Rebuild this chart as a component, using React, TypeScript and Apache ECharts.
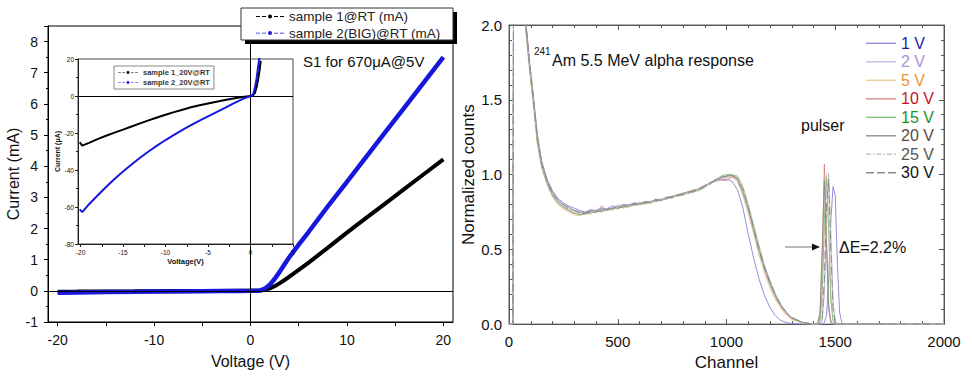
import React, { useEffect, useRef } from 'react';
import * as echarts from 'echarts';

// ---------- Left panel: I-V curves (mA) ----------
const IV_VOLTAGE = [-20, -18, -15, -12, -10, -8, -5, -3, -1, 0, 0.5, 1, 1.5, 2, 2.5, 3, 3.5, 4, 5, 6, 8, 10, 12, 14, 16, 18, 20];
const IV_SAMPLE1 = [-0.027, -0.024, -0.018, -0.014, -0.01, -0.008, -0.004, -0.002, -0.0005, 0, 0.002, 0.012, 0.035, 0.08, 0.15, 0.24, 0.34, 0.45, 0.67, 0.9, 1.38, 1.87, 2.34, 2.81, 3.28, 3.75, 4.22];
const IV_SAMPLE2 = [-0.062, -0.052, -0.041, -0.032, -0.024, -0.018, -0.011, -0.006, -0.0018, 0, 0.003, 0.015, 0.07, 0.2, 0.38, 0.6, 0.84, 1.07, 1.48, 1.88, 2.7, 3.5, 4.3, 5.1, 5.9, 6.7, 7.5];

// ---------- Inset: reverse bias (uA) ----------
const INSET_VOLTAGE = [-20.1, -19.8, -19, -18, -17, -16, -15, -14, -13, -12, -11, -10, -9, -8, -7, -6, -5, -4, -3, -2, -1, -0.5, 0, 0.3, 0.5, 0.7, 0.9, 1.1, 1.2];
const INSET_SAMPLE1 = [-25, -26.8, -25.3, -23.3, -21.5, -19.8, -18.2, -16.5, -14.8, -13.2, -11.6, -10.1, -8.7, -7.4, -6.1, -5, -4, -3.1, -2.2, -1.4, -0.6, -0.3, 0, 0.3, 1.5, 4.5, 9, 15, 19];
const INSET_SAMPLE2 = [-61.3, -62.8, -58.5, -53.8, -49.2, -44.9, -40.8, -37, -33.4, -30, -26.8, -23.8, -21, -18.3, -15.8, -13.3, -11, -8.7, -6.4, -4.0, -1.8, -0.9, 0, 0.8, 4, 9, 16, 22, 26];

const MAIN_X_LABELS = [-20, -10, 0, 10, 20];
const MAIN_X_TICKS = [-20, -15, -10, -5, 0, 5, 10, 15, 20];
const INSET_X_LABELS = [-20, -15, -10, -5, 0, 5];
const INSET_X_TICKS = [-20, -17.5, -15, -12.5, -10, -7.5, -5, -2.5, 0, 2.5, 5];

// ---------- Right panel: alpha spectra ----------
const CHANNELS = [
  0, 18, 24, 60, 77, 95, 112, 130, 150, 175, 200, 225, 250, 275, 300,
  325, 350, 375, 400, 425, 450, 475, 500, 525, 550, 575, 600, 625, 650, 675, 700, 725, 750, 775, 800, 825, 850, 875, 900, 925, 950, 975, 1000,
  1025, 1050, 1075, 1100, 1125, 1150, 1175, 1200, 1225, 1250, 1275, 1300, 1350,
  1400, 1410, 1420, 1430, 1440, 1450, 1460, 1470, 1480, 1490, 1500, 1510, 1520, 1530, 1540, 1550,
  1600, 2000,
];
const SPEC_1V = [
  0, 0, 4.5, 3.0, 2.02, 1.74, 1.52, 1.26, 1.09, 0.97, 0.89, 0.84, 0.81, 0.79, 0.775,
  0.76, 0.75, 0.765, 0.76, 0.775, 0.77, 0.79, 0.785, 0.8, 0.795, 0.81, 0.805, 0.82, 0.815, 0.835, 0.83, 0.85, 0.845, 0.865, 0.87, 0.885, 0.89, 0.91, 0.925, 0.94, 0.955, 0.965, 0.97,
  0.955, 0.9, 0.78, 0.6, 0.44, 0.3, 0.19, 0.11, 0.055, 0.025, 0.01, 0.004, 0,
  0, 0, 0, 0, 0, 0.01, 0.06, 0.3, 0.7, 0.92, 0.86, 0.4, 0.08, 0.01, 0, 0,
  0, 0,
];
const SPEC_2V = [
  0, 0, 4.6, 3.05, 2.0, 1.71, 1.49, 1.23, 1.06, 0.94, 0.86, 0.82, 0.78, 0.76, 0.74,
  0.735, 0.75, 0.74, 0.76, 0.75, 0.775, 0.765, 0.785, 0.78, 0.8, 0.795, 0.81, 0.805, 0.82, 0.82, 0.835, 0.835, 0.855, 0.855, 0.875, 0.875, 0.895, 0.9, 0.925, 0.935, 0.965, 0.975, 0.985,
  0.99, 0.96, 0.87, 0.75, 0.61, 0.47, 0.35, 0.25, 0.17, 0.11, 0.065, 0.035, 0.008,
  0, 0, 0, 0, 0.02, 0.2, 0.7, 0.95, 0.6, 0.15, 0.02, 0, 0, 0, 0, 0,
  0, 0,
];
const SPEC_5V = [
  0, 0, 4.4, 2.98, 1.98, 1.7, 1.48, 1.22, 1.05, 0.93, 0.85, 0.8, 0.77, 0.75, 0.73,
  0.725, 0.74, 0.735, 0.765, 0.745, 0.77, 0.76, 0.8, 0.775, 0.785, 0.81, 0.795, 0.815, 0.805, 0.83, 0.825, 0.85, 0.84, 0.87, 0.86, 0.89, 0.88, 0.91, 0.915, 0.95, 0.955, 0.985, 0.98,
  0.985, 0.955, 0.86, 0.74, 0.6, 0.46, 0.34, 0.24, 0.165, 0.105, 0.06, 0.03, 0.006,
  0, 0, 0, 0.02, 0.18, 0.65, 1.0, 0.72, 0.2, 0.03, 0, 0, 0, 0, 0, 0,
  0, 0,
];
const SPEC_10V = [
  0, 0, 4.5, 3.02, 2.03, 1.75, 1.53, 1.27, 1.08, 0.95, 0.86, 0.81, 0.79, 0.76, 0.74,
  0.735, 0.745, 0.76, 0.745, 0.79, 0.76, 0.775, 0.77, 0.795, 0.785, 0.81, 0.8, 0.82, 0.81, 0.835, 0.825, 0.845, 0.845, 0.86, 0.875, 0.875, 0.9, 0.895, 0.93, 0.935, 0.97, 0.965, 0.96,
  0.985, 0.97, 0.88, 0.77, 0.63, 0.49, 0.37, 0.27, 0.185, 0.12, 0.075, 0.04, 0.01,
  0, 0, 0, 0.05, 0.45, 1.07, 0.55, 0.12, 0.02, 0, 0, 0, 0, 0, 0, 0,
  0, 0,
];
const SPEC_15V = [
  0, 0, 4.5, 2.97, 1.97, 1.69, 1.47, 1.21, 1.05, 0.94, 0.86, 0.81, 0.78, 0.76, 0.745,
  0.73, 0.735, 0.745, 0.75, 0.755, 0.76, 0.77, 0.775, 0.785, 0.785, 0.795, 0.8, 0.805, 0.815, 0.82, 0.83, 0.835, 0.85, 0.855, 0.865, 0.875, 0.885, 0.895, 0.915, 0.94, 0.965, 0.99, 1.0,
  1.0, 0.99, 0.92, 0.8, 0.66, 0.52, 0.39, 0.29, 0.2, 0.13, 0.08, 0.045, 0.012,
  0, 0, 0, 0.02, 0.22, 0.7, 0.98, 0.62, 0.15, 0.02, 0, 0, 0, 0, 0, 0,
  0, 0,
];
const SPEC_20V = [
  0, 0, 4.5, 3.0, 2.01, 1.73, 1.51, 1.25, 1.08, 0.96, 0.88, 0.83, 0.8, 0.78, 0.76,
  0.75, 0.745, 0.755, 0.76, 0.765, 0.77, 0.775, 0.785, 0.79, 0.795, 0.805, 0.81, 0.815, 0.82, 0.83, 0.835, 0.845, 0.855, 0.865, 0.875, 0.885, 0.895, 0.905, 0.925, 0.945, 0.965, 0.98, 0.99,
  0.995, 0.975, 0.89, 0.77, 0.63, 0.49, 0.37, 0.27, 0.19, 0.125, 0.075, 0.04, 0.01,
  0, 0, 0.01, 0.08, 0.5, 0.96, 0.5, 0.1, 0.01, 0, 0, 0, 0, 0, 0, 0,
  0, 0,
];
const SPEC_25V = [
  0, 0, 4.5, 3.0, 2.0, 1.72, 1.5, 1.24, 1.07, 0.95, 0.87, 0.82, 0.79, 0.77, 0.755,
  0.74, 0.75, 0.745, 0.76, 0.76, 0.77, 0.765, 0.78, 0.79, 0.79, 0.8, 0.81, 0.81, 0.82, 0.825, 0.835, 0.84, 0.85, 0.86, 0.87, 0.88, 0.895, 0.9, 0.92, 0.94, 0.96, 0.975, 0.985,
  0.99, 0.97, 0.88, 0.76, 0.62, 0.48, 0.36, 0.26, 0.18, 0.115, 0.07, 0.038, 0.009,
  0, 0, 0, 0, 0.03, 0.25, 0.75, 1.02, 0.55, 0.12, 0.01, 0, 0, 0, 0, 0,
  0, 0,
];
const SPEC_30V = [
  0, 0, 4.5, 3.01, 2.01, 1.73, 1.5, 1.25, 1.07, 0.96, 0.87, 0.83, 0.8, 0.77, 0.76,
  0.745, 0.74, 0.75, 0.75, 0.76, 0.765, 0.775, 0.775, 0.785, 0.795, 0.8, 0.8, 0.81, 0.82, 0.825, 0.83, 0.845, 0.85, 0.86, 0.865, 0.88, 0.89, 0.9, 0.92, 0.945, 0.96, 0.98, 0.99,
  0.995, 0.975, 0.9, 0.78, 0.64, 0.5, 0.38, 0.28, 0.195, 0.125, 0.078, 0.042, 0.011,
  0, 0, 0, 0, 0.04, 0.3, 0.8, 0.97, 0.5, 0.1, 0.01, 0, 0, 0, 0, 0,
  0, 0,
];

const SPEC_NAMES = ['1 V', '2 V', '5 V', '10 V', '15 V', '20 V', '25 V', '30 V'];
const SPEC_VALUES = [SPEC_1V, SPEC_2V, SPEC_5V, SPEC_10V, SPEC_15V, SPEC_20V, SPEC_25V, SPEC_30V];
const SPEC_LINE_COLORS = ['#9090e0', '#cdbcee', '#eec99a', '#d68888', '#86c286', '#9a8a92', '#c4c4c4', '#8a8a8a'];
const SPEC_TEXT_COLORS = ['#1c1ca6', '#ad8fdc', '#ec9433', '#c4141c', '#1c8f1c', '#5c4a44', '#555555', '#111111'];
const SPEC_LINE_TYPES: any[] = ['solid', 'solid', 'solid', 'solid', 'solid', 'solid', [6, 2, 1, 2], [8, 4]];

const FONT = '"Liberation Sans", Arial, Helvetica, sans-serif';

// legend icon shapes (30 x 1.4 box)
const ICON_SOLID = 'path://M0,0h30v1.4h-30z';
const ICON_DASHDOT = 'path://M0,0h5v1.4h-5zM7,0h1.5v1.4h-1.5zM10.5,0h5v1.4h-5zM17.5,0h1.5v1.4h-1.5zM21,0h5v1.4h-5zM28,0h2v1.4h-2z';
const ICON_DASH = 'path://M0,0h8v1.4h-8zM11,0h8v1.4h-8zM22,0h8v1.4h-8z';
const SPEC_ICONS = [ICON_SOLID, ICON_SOLID, ICON_SOLID, ICON_SOLID, ICON_SOLID, ICON_SOLID, ICON_DASHDOT, ICON_DASH];
// dash-dot-dash icon (28 x 4 box)
const ICON_LINE_DOT = 'path://M0,1.6h4v0.8h-4zM6,1.6h4v0.8h-4zM18,1.6h4v0.8h-4zM24,1.6h4v0.8h-4zM12,2a2,2 0 1,0 4,0a2,2 0 1,0 -4,0z';

export default function App() {
  const ref = useRef<HTMLDivElement>(null);

  useEffect(() => {
    const chart = echarts.init(ref.current as HTMLDivElement, null, { renderer: 'svg' });
    const zip = (xs: number[], ys: number[]) => xs.map((x, i) => [x, ys[i]]);

    const specSeries = SPEC_NAMES.map((name, i) => ({
      name,
      type: 'line',
      xAxisIndex: 2,
      yAxisIndex: 2,
      data: zip(CHANNELS, SPEC_VALUES[i]),
      symbol: 'none',
      clip: true,
      z: 3,
      lineStyle: { color: SPEC_LINE_COLORS[i], width: 1, type: SPEC_LINE_TYPES[i] },
      itemStyle: { color: SPEC_LINE_COLORS[i] },
    }));

    const axisText = { fontFamily: FONT, color: '#111' };

    const option: any = {
      animation: false,
      backgroundColor: '#ffffff',
      textStyle: { fontFamily: FONT },
      grid: [
        { left: 48, top: 26, width: 405, height: 296, show: true, borderColor: '#000', borderWidth: 1, backgroundColor: 'transparent', z: 0 },
        { left: 78, top: 59, width: 215, height: 185, show: true, borderColor: '#444', borderWidth: 1, backgroundColor: '#ffffff', z: 3 },
        { left: 509, top: 25, width: 435, height: 301, show: true, borderColor: '#666', borderWidth: 1, backgroundColor: 'transparent', z: 0 },
      ],
      xAxis: [
        {
          type: 'value', gridIndex: 0, min: -21, max: 21,
          axisLine: { show: true, onZero: false, lineStyle: { color: '#000', width: 1 } },
          axisTick: { show: true, customValues: MAIN_X_TICKS, length: 4, lineStyle: { color: '#000' } },
          axisLabel: { customValues: MAIN_X_LABELS, fontSize: 14, margin: 11, ...axisText },
          splitLine: { show: false },
          name: 'Voltage (V)', nameLocation: 'middle', nameGap: 31,
          nameTextStyle: { fontSize: 16, ...axisText },
        },
        {
          type: 'value', gridIndex: 1, min: -20.3, max: 5, z: 6,
          axisLine: { show: true, onZero: false, lineStyle: { color: '#222', width: 1 } },
          axisTick: { show: true, customValues: INSET_X_TICKS, length: 3, lineStyle: { color: '#222' } },
          axisLabel: { customValues: INSET_X_LABELS, fontSize: 6.5, margin: 5, ...axisText },
          splitLine: { show: false },
          name: 'Voltage(V)', nameLocation: 'middle', nameGap: 13,
          nameTextStyle: { fontSize: 7.5, fontWeight: 'bold', ...axisText },
        },
        {
          type: 'value', gridIndex: 2, min: 0, max: 2000, interval: 500,
          axisLine: { show: true, onZero: false, lineStyle: { color: '#555', width: 1 } },
          axisTick: { show: true, inside: true, length: 5, lineStyle: { color: '#555' } },
          minorTick: { show: true, splitNumber: 5, length: 3, lineStyle: { color: '#555' } },
          axisLabel: { fontSize: 15, margin: 10, formatter: (v: number) => String(v), ...axisText },
          splitLine: { show: false },
          name: 'Channel', nameLocation: 'middle', nameGap: 27,
          nameTextStyle: { fontSize: 17, ...axisText },
        },
        {
          type: 'value', gridIndex: 2, position: 'top', min: 0, max: 2000, interval: 500,
          axisLine: { show: true, onZero: false, lineStyle: { color: '#555', width: 1 } },
          axisTick: { show: true, inside: true, length: 5, lineStyle: { color: '#555' } },
          minorTick: { show: true, splitNumber: 5, length: 3, lineStyle: { color: '#555' } },
          axisLabel: { show: false },
          splitLine: { show: false },
        },
      ],
      yAxis: [
        {
          type: 'value', gridIndex: 0, min: -1, max: 8.5, interval: 1,
          axisLine: { show: true, onZero: false, lineStyle: { color: '#000', width: 1 } },
          axisTick: { show: true, length: 4, lineStyle: { color: '#000' } },
          minorTick: { show: true, splitNumber: 2, length: 2, lineStyle: { color: '#000' } },
          axisLabel: { fontSize: 14, margin: 10, showMaxLabel: false, ...axisText },
          splitLine: { show: false },
          name: 'Current (mA)', nameLocation: 'middle', nameGap: 21,
          nameTextStyle: { fontSize: 16, ...axisText },
        },
        {
          type: 'value', gridIndex: 1, min: -80, max: 20, interval: 20, z: 6,
          axisLine: { show: true, onZero: false, lineStyle: { color: '#222', width: 1 } },
          axisTick: { show: true, length: 3, lineStyle: { color: '#222' } },
          minorTick: { show: true, splitNumber: 2, length: 2, lineStyle: { color: '#222' } },
          axisLabel: { fontSize: 6.5, margin: 4, ...axisText },
          splitLine: { show: false },
          name: 'Current (μA)', nameLocation: 'middle', nameGap: 15,
          nameTextStyle: { fontSize: 7, fontWeight: 'bold', ...axisText },
        },
        {
          type: 'value', gridIndex: 2, min: 0, max: 2, interval: 0.5,
          axisLine: { show: true, onZero: false, lineStyle: { color: '#555', width: 1 } },
          axisTick: { show: true, inside: true, length: 5, lineStyle: { color: '#555' } },
          minorTick: { show: true, splitNumber: 5, length: 3, lineStyle: { color: '#555' } },
          axisLabel: { fontSize: 15, margin: 7, formatter: (v: number) => v.toFixed(1), ...axisText },
          splitLine: { show: false },
          name: 'Normalized counts', nameLocation: 'middle', nameGap: 32,
          nameTextStyle: { fontSize: 17, ...axisText },
        },
        {
          type: 'value', gridIndex: 2, position: 'right', min: 0, max: 2, interval: 0.5,
          axisLine: { show: true, onZero: false, lineStyle: { color: '#555', width: 1 } },
          axisTick: { show: true, inside: true, length: 5, lineStyle: { color: '#555' } },
          minorTick: { show: true, splitNumber: 5, length: 3, lineStyle: { color: '#555' } },
          axisLabel: { show: false },
          splitLine: { show: false },
        },
      ],
      legend: [
        {
          data: [
            { name: 'sample 1@RT (mA)', icon: ICON_LINE_DOT },
            { name: 'sample 2(BIG)@RT (mA)', icon: ICON_LINE_DOT },
          ],
          orient: 'vertical', left: 256, top: 9.5, z: 20,
          itemWidth: 28, itemHeight: 4, itemGap: 2.6, padding: 0,
          textStyle: { fontSize: 13.5, lineHeight: 14, color: '#222', fontFamily: FONT },
        },
        {
          data: [
            { name: 'sample 1_20V@RT', icon: ICON_LINE_DOT },
            { name: 'sample 2_20V@RT', icon: ICON_LINE_DOT },
          ],
          orient: 'vertical', left: 114, top: 66, z: 20,
          itemWidth: 20, itemHeight: 3, itemGap: 1, padding: [2, 4, 2, 4],
          backgroundColor: '#fff', borderColor: '#888', borderWidth: 1,
          textStyle: { fontSize: 7.5, lineHeight: 9, fontWeight: 'bold', color: '#333', fontFamily: FONT },
        },
        {
          data: SPEC_NAMES.map((n, i) => ({ name: n, icon: SPEC_ICONS[i], textStyle: { color: SPEC_TEXT_COLORS[i] } })),
          orient: 'vertical', left: 866, top: 34.3, z: 20,
          itemWidth: 30, itemHeight: 1.4, itemGap: 0.5, padding: 0,
          textStyle: { fontSize: 16, lineHeight: 18, fontFamily: FONT },
        },
      ],
      graphic: [
        { type: 'rect', z: 8, shape: { x: 245, y: 12, width: 212, height: 32 }, style: { fill: '#000' } },
        { type: 'rect', z: 9, shape: { x: 241, y: 8, width: 212, height: 32 }, style: { fill: '#fff', stroke: '#333', lineWidth: 1 } },
        { type: 'text', z: 10, x: 303, y: 61, style: { text: 'S1 for 670μA@5V', font: `15px ${FONT}`, fill: '#111', textVerticalAlign: 'middle' } },
        { type: 'text', z: 10, x: 534, y: 51, style: { text: '241', font: `10px ${FONT}`, fill: '#111', textVerticalAlign: 'middle' } },
        { type: 'text', z: 10, x: 552, y: 60, style: { text: 'Am 5.5 MeV alpha response', font: `16px ${FONT}`, fill: '#111', textVerticalAlign: 'middle' } },
        { type: 'text', z: 10, x: 801, y: 125, style: { text: 'pulser', font: `16px ${FONT}`, fill: '#111', textVerticalAlign: 'middle' } },
        { type: 'text', z: 10, x: 839, y: 247, style: { text: 'ΔE=2.2%', font: `16px ${FONT}`, fill: '#111', textVerticalAlign: 'middle' } },
        { type: 'line', z: 10, shape: { x1: 785, y1: 247, x2: 815, y2: 247 }, style: { stroke: '#777', lineWidth: 1 } },
        { type: 'polygon', z: 10, shape: { points: [[812, 243.5], [820, 247], [812, 250.5]] }, style: { fill: '#111' } },
      ],
      series: [
        {
          name: 'sample 1@RT (mA)', type: 'line', xAxisIndex: 0, yAxisIndex: 0, z: 1,
          data: zip(IV_VOLTAGE, IV_SAMPLE1), symbol: 'circle', symbolSize: 4, showSymbol: false,
          lineStyle: { color: '#000', width: 4 }, itemStyle: { color: '#000' },
          markLine: {
            silent: true, symbol: ['none', 'none'], label: { show: false },
            lineStyle: { color: '#000', width: 1, type: 'solid' },
            data: [{ xAxis: 0 }, { yAxis: 0 }],
          },
        },
        {
          name: 'sample 2(BIG)@RT (mA)', type: 'line', xAxisIndex: 0, yAxisIndex: 0, z: 1,
          data: zip(IV_VOLTAGE, IV_SAMPLE2), symbol: 'circle', symbolSize: 4, showSymbol: false,
          lineStyle: { color: '#1616dc', width: 4.5 }, itemStyle: { color: '#1616dc' },
        },
        {
          name: 'sample 1_20V@RT', type: 'line', xAxisIndex: 1, yAxisIndex: 1, z: 7,
          data: zip(INSET_VOLTAGE, INSET_SAMPLE1), symbol: 'circle', symbolSize: 3, showSymbol: false, clip: true,
          lineStyle: { color: '#000', width: 2 }, itemStyle: { color: '#000' },
          markLine: {
            silent: true, symbol: ['none', 'none'], label: { show: false },
            lineStyle: { color: '#000', width: 1, type: 'solid' },
            data: [{ xAxis: 0 }, { yAxis: 0 }],
          },
        },
        {
          name: 'sample 2_20V@RT', type: 'line', xAxisIndex: 1, yAxisIndex: 1, z: 7,
          data: zip(INSET_VOLTAGE, INSET_SAMPLE2), symbol: 'circle', symbolSize: 3, showSymbol: false, clip: true,
          lineStyle: { color: '#1616dc', width: 2 }, itemStyle: { color: '#1616dc' },
        },
        ...specSeries,
      ],
    };

    chart.setOption(option);
    return () => chart.dispose();
  }, []);

  return (
    <div
      ref={ref}
      style={{ position: 'fixed', left: 0, top: 0, width: 972, height: 376, background: '#fff' }}
    />
  );
}
